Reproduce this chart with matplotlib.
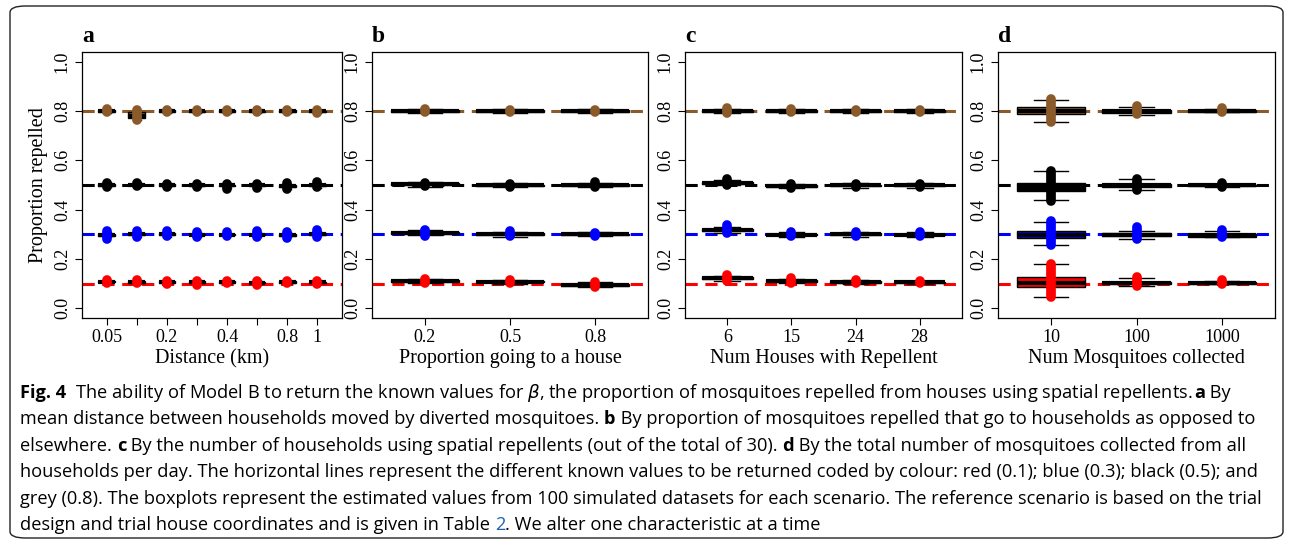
import matplotlib
matplotlib.use("Agg")
import matplotlib.pyplot as plt
from matplotlib.patches import FancyBboxPatch

# ---------------- data ----------------
targets = [0.1, 0.3, 0.5, 0.8]
series_colors = ["#FF0000", "#0000FF", "#000000", "#8B5A2B"]

panel_letters = ["a", "b", "c", "d"]
panel_xlabels = ["Distance (km)", "Proportion going to a house",
                 "Num Houses with Repellent", "Num Mosquitoes collected"]
a_ticks = ["0.05", "", "0.2", "", "0.4", "", "0.8", "1"]
b_ticks = ["0.2", "0.5", "0.8"]
c_ticks = ["6", "15", "24", "28"]
d_ticks = ["10", "100", "1000"]

# per group: (q1, median, q3, whisker_lo, whisker_hi, points_lo, points_hi)
a_red = [(0.105,0.108,0.112,0.100,0.116,0.102,0.114),(0.104,0.107,0.111,0.099,0.116,0.101,0.115),
         (0.103,0.106,0.109,0.098,0.114,0.100,0.112),(0.102,0.105,0.109,0.097,0.114,0.096,0.110),
         (0.103,0.106,0.109,0.098,0.113,0.101,0.110),(0.101,0.104,0.108,0.095,0.113,0.094,0.110),
         (0.103,0.106,0.110,0.098,0.114,0.101,0.112),(0.102,0.105,0.108,0.097,0.112,0.100,0.110)]
a_blue = [(0.294,0.298,0.302,0.288,0.308,0.282,0.312),(0.296,0.300,0.304,0.289,0.310,0.290,0.315),
          (0.296,0.300,0.304,0.290,0.310,0.292,0.314),(0.295,0.299,0.303,0.289,0.309,0.290,0.311),
          (0.296,0.299,0.302,0.291,0.307,0.293,0.309),(0.295,0.299,0.303,0.289,0.310,0.290,0.312),
          (0.294,0.298,0.302,0.288,0.309,0.286,0.311),(0.297,0.301,0.305,0.291,0.312,0.290,0.316)]
a_black = [(0.497,0.501,0.505,0.491,0.511,0.493,0.508),(0.498,0.502,0.506,0.492,0.511,0.497,0.508),
           (0.495,0.499,0.503,0.490,0.508,0.493,0.505),(0.495,0.499,0.503,0.490,0.508,0.492,0.504),
           (0.494,0.498,0.502,0.488,0.508,0.485,0.505),(0.494,0.498,0.502,0.488,0.508,0.487,0.506),
           (0.492,0.496,0.500,0.485,0.506,0.483,0.507),(0.494,0.498,0.503,0.487,0.510,0.492,0.513)]
a_brown = [(0.797,0.800,0.803,0.792,0.808,0.795,0.807),(0.771,0.780,0.795,0.762,0.805,0.765,0.806),
           (0.797,0.800,0.803,0.792,0.807,0.797,0.806),(0.796,0.799,0.802,0.791,0.806,0.796,0.804),
           (0.797,0.800,0.803,0.792,0.807,0.797,0.806),(0.796,0.799,0.802,0.791,0.806,0.795,0.804),
           (0.796,0.799,0.803,0.791,0.807,0.796,0.805),(0.796,0.799,0.802,0.791,0.806,0.794,0.805)]

b_red = [(0.107,0.110,0.114,0.102,0.119,0.103,0.120),(0.105,0.108,0.111,0.100,0.115,0.102,0.116),
         (0.091,0.095,0.099,0.085,0.105,0.085,0.106)]
b_blue = [(0.302,0.306,0.310,0.296,0.316,0.294,0.316),(0.296,0.300,0.304,0.290,0.309,0.292,0.313),
          (0.296,0.300,0.303,0.291,0.308,0.294,0.306)]
b_black = [(0.499,0.503,0.507,0.493,0.512,0.496,0.510),(0.495,0.498,0.502,0.490,0.507,0.492,0.505),
           (0.495,0.499,0.503,0.490,0.509,0.492,0.514)]
b_brown = [(0.797,0.800,0.803,0.792,0.807,0.795,0.807),(0.798,0.801,0.804,0.793,0.808,0.798,0.806),
           (0.798,0.801,0.804,0.793,0.808,0.798,0.806)]

c_red = [(0.117,0.121,0.125,0.110,0.130,0.112,0.135),(0.107,0.110,0.114,0.102,0.119,0.104,0.122),
         (0.104,0.107,0.110,0.100,0.114,0.103,0.113),(0.102,0.105,0.108,0.098,0.112,0.101,0.109)]
c_blue = [(0.313,0.318,0.322,0.307,0.328,0.305,0.338),(0.295,0.299,0.303,0.289,0.309,0.292,0.310),
          (0.296,0.300,0.304,0.290,0.309,0.292,0.311),(0.295,0.299,0.303,0.289,0.308,0.291,0.310)]
c_black = [(0.506,0.510,0.514,0.500,0.520,0.502,0.524),(0.491,0.495,0.499,0.486,0.504,0.488,0.503),
           (0.494,0.498,0.502,0.489,0.507,0.493,0.504),(0.494,0.498,0.502,0.489,0.507,0.493,0.505)]
c_brown = [(0.797,0.800,0.804,0.791,0.809,0.791,0.812),(0.797,0.800,0.803,0.792,0.807,0.795,0.808),
           (0.797,0.800,0.803,0.792,0.807,0.796,0.806),(0.797,0.800,0.803,0.792,0.807,0.797,0.805)]

d_red = [(0.086,0.102,0.126,0.045,0.178,0.045,0.180),(0.097,0.102,0.108,0.088,0.122,0.090,0.125),
         (0.100,0.104,0.108,0.097,0.111,0.098,0.113)]
d_blue = [(0.286,0.297,0.312,0.255,0.350,0.255,0.353),(0.292,0.298,0.304,0.280,0.315,0.280,0.328),
          (0.289,0.296,0.302,0.289,0.312,0.290,0.318)]
d_black = [(0.475,0.492,0.510,0.440,0.555,0.435,0.555),(0.492,0.498,0.504,0.480,0.524,0.478,0.525),
           (0.495,0.499,0.502,0.492,0.504,0.492,0.509)]
d_brown = [(0.790,0.801,0.815,0.755,0.845,0.755,0.848),(0.794,0.800,0.806,0.786,0.815,0.789,0.819),
           (0.796,0.800,0.804,0.795,0.807,0.795,0.811)]

panels = [
    (a_ticks, [a_red, a_blue, a_black, a_brown], 0.55),
    (b_ticks, [b_red, b_blue, b_black, b_brown], 0.8),
    (c_ticks, [c_red, c_blue, c_black, c_brown], 0.8),
    (d_ticks, [d_red, d_blue, d_black, d_brown], 0.8),
]

# ---------------- figure ----------------
W, H = 1293, 546
fig = plt.figure(figsize=(W / 100, H / 100), dpi=100)
fig.patches.append(FancyBboxPatch((10 / W, 8 / H), 1273 / W, 532 / H,
                                  boxstyle="round,pad=0,rounding_size=0.012",
                                  transform=fig.transFigure, fill=False,
                                  edgecolor="#222222", lw=1.0))

serif = "Liberation Serif"
axes_px = [(82, 342), (372, 648), (685, 962), (998, 1275)]
top_px, bot_px = 52, 318

for i, ((tlabels, series, bw), (l, r)) in enumerate(zip(panels, axes_px)):
    ax = fig.add_axes([l / W, 1 - bot_px / H, (r - l) / W, (bot_px - top_px) / H])
    n = len(tlabels)
    pos = list(range(1, n + 1))
    for tv, col in zip(targets, series_colors):
        ax.axhline(tv, color=col, lw=2.2, ls=(0, (4, 2.5)), zorder=1)
    for vals, col in zip(series, series_colors):
        stats = [dict(q1=v[0], med=v[1], q3=v[2], whislo=v[3], whishi=v[4], fliers=[])
                 for v in vals]
        ax.bxp(stats, positions=pos, widths=bw, patch_artist=True, showfliers=False,
               boxprops=dict(facecolor=col, edgecolor="black", lw=1.0),
               medianprops=dict(color="black", lw=3),
               whiskerprops=dict(color="black", lw=1.0, ls="--"),
               capprops=dict(color="black", lw=1.0), manage_ticks=False, zorder=3)
        for p, v in zip(pos, vals):
            ax.plot([p, p], [v[5], v[6]], color=col, lw=7, solid_capstyle="round", zorder=4)
    ax.set_xlim(0.5 - 0.04 * n, n + 0.5 + 0.04 * n)
    ax.set_ylim(-0.04, 1.04)
    ax.set_xticks(pos)
    ax.set_xticklabels(tlabels, fontfamily=serif, fontsize=13)
    ax.set_yticks([0, 0.2, 0.4, 0.6, 0.8, 1.0])
    ax.set_yticklabels(["0.0", "0.2", "0.4", "0.6", "0.8", "1.0"], fontfamily=serif,
                       fontsize=13, rotation=90, va="center")
    ax.tick_params(direction="out", length=5, width=0.8, pad=3)
    for s in ax.spines.values():
        s.set_linewidth(0.9)
    ax.set_xlabel(panel_xlabels[i], fontfamily=serif, fontsize=14.5, labelpad=2)
    if i == 0:
        ax.set_ylabel("Proportion repelled", fontfamily=serif, fontsize=14.5, labelpad=4)
    ax.text(0.0, 1.02, panel_letters[i], transform=ax.transAxes, fontfamily=serif,
            fontsize=17, fontweight="bold", va="bottom", ha="left")

# ---------------- caption ----------------
cap_lines = [
    [("Fig. 4", "bold", "k"), ("  The ability of Model B to return the known values for $\\beta$, the proportion of mosquitoes repelled from houses using spatial repellents. ", "normal", "k"), ("a", "bold", "k"), (" By", "normal", "k")],
    [("mean distance between households moved by diverted mosquitoes. ", "normal", "k"), ("b", "bold", "k"), (" By proportion of mosquitoes repelled that go to households as opposed to", "normal", "k")],
    [("elsewhere. ", "normal", "k"), ("c", "bold", "k"), (" By the number of households using spatial repellents (out of the total of 30). ", "normal", "k"), ("d", "bold", "k"), (" By the total number of mosquitoes collected from all", "normal", "k")],
    [("households per day. The horizontal lines represent the different known values to be returned coded by colour: red (0.1); blue (0.3); black (0.5); and", "normal", "k")],
    [("grey (0.8). The boxplots represent the estimated values from 100 simulated datasets for each scenario. The reference scenario is based on the trial", "normal", "k")],
    [("design and trial house coordinates and is given in Table ", "normal", "k"), ("2", "normal", "#1f5fb0"), (". We alter one characteristic at a time", "normal", "k")],
]
cap_font = "Open Sans"

fig.canvas.draw()
renderer = fig.canvas.get_renderer()

def draw_line(runs, y, size):
    x = 20
    arts = []
    for txt, wt, col in runs:
        t = fig.text(x / W, 1 - y / H, txt, fontfamily=cap_font, fontsize=size,
                     fontweight=wt, color=col, va="center", ha="left")
        x += t.get_window_extent(renderer).width
        arts.append(t)
    return x, arts

base = 10.0
widest = 0
for runs in cap_lines[:5]:
    xend, arts = draw_line(runs, 380, base)
    widest = max(widest, xend - 20)
    for a in arts:
        a.remove()
size = base * (1266 - 20) / widest
for li, runs in enumerate(cap_lines):
    draw_line(runs, 393 + li * 26.4, size)

fig.savefig("out.png", dpi=100)
